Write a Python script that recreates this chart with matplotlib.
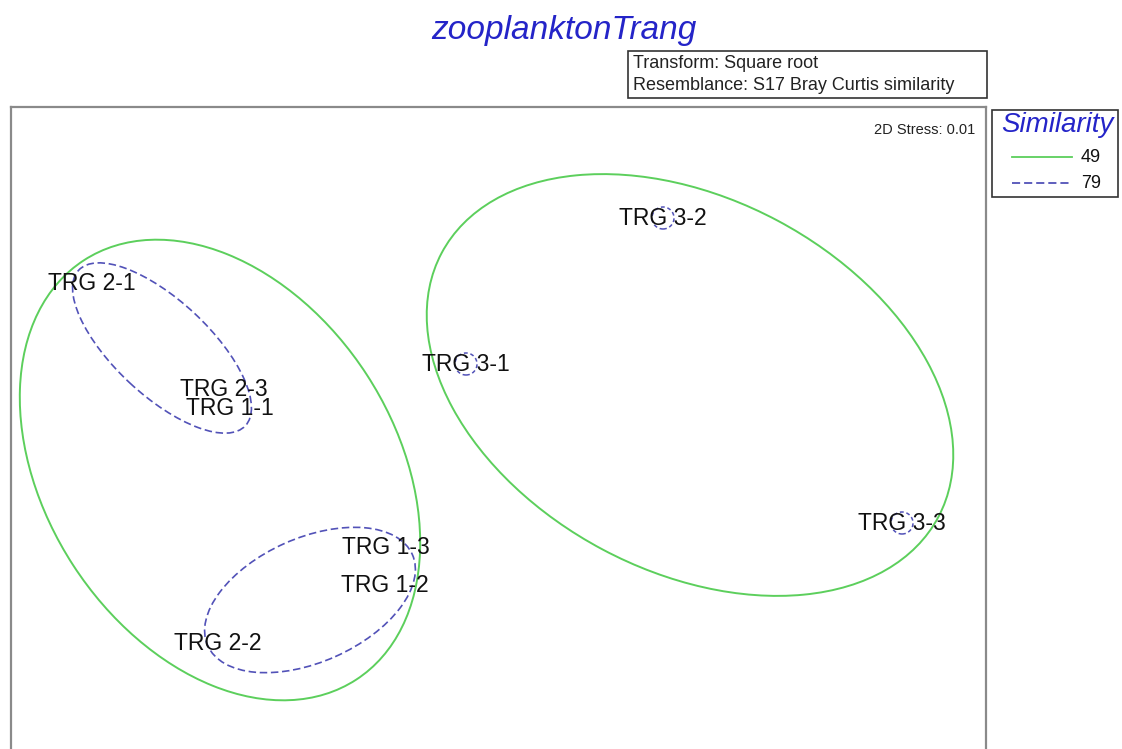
import matplotlib
matplotlib.use("Agg")
import matplotlib.pyplot as plt
from matplotlib.patches import Ellipse, Rectangle
from matplotlib.lines import Line2D

plt.rcParams['font.family'] = ['Liberation Sans', 'DejaVu Sans']

# --- nMDS ordination of samples -------------------------------------------
samples = ["TRG 1-1", "TRG 1-2", "TRG 1-3",
           "TRG 2-1", "TRG 2-2", "TRG 2-3",
           "TRG 3-1", "TRG 3-2", "TRG 3-3"]
mds_x = [-1.080, -0.460, -0.456, -1.632, -1.128, -1.104, -0.136, 0.652, 1.608]
mds_y = [0.088, -0.620, -0.472, 0.588, -0.856, 0.164, 0.264, 0.848, -0.372]

# cluster overlays at two similarity levels (centre x, centre y, width, height, angle)
sim_levels = [49, 79]
sim_colors = ["#5ccf5c", "#5252b8"]
sim_styles = ["-", (0, (4.5, 2.2))]

groups_49 = [(-1.120, -0.160, 2.000, 1.400, -57.0),
             (0.760, 0.180, 2.250, 1.490, -28.0)]
groups_79 = [(-1.352, 0.328, 0.912, 0.380, -43.0),
             (-0.760, -0.680, 0.896, 0.496, 24.0)]
# samples that form a group of one at the 79% level
singletons_79 = ["TRG 3-1", "TRG 3-2", "TRG 3-3"]
single_diam = 0.088

stress = 0.01
title = "zooplanktonTrang"
info_lines = ["Transform: Square root", "Resemblance: S17 Bray Curtis similarity"]

W, H = 1122, 749
fig = plt.figure(figsize=(W / 100, H / 100), dpi=100)
fig.patch.set_facecolor("white")


def fx(px):
    return px / W


def fy(py):
    return 1 - py / H


ax = fig.add_axes([fx(11), fy(752), (986 - 11) / W, (752 - 107) / H])
ax.set_xlim(-1.956, 1.944)
ax.set_ylim(-1.288, 1.292)
ax.set_xticks([])
ax.set_yticks([])
for s in ax.spines.values():
    s.set_color("#8a8a8a")
    s.set_linewidth(1.6)

for (cx, cy, w, h, a) in groups_49:
    ax.add_patch(Ellipse((cx, cy), w, h, angle=a, fill=False,
                         edgecolor=sim_colors[0], linestyle=sim_styles[0], lw=1.4))
for (cx, cy, w, h, a) in groups_79:
    ax.add_patch(Ellipse((cx, cy), w, h, angle=a, fill=False,
                         edgecolor=sim_colors[1], linestyle=sim_styles[1], lw=1.2))
for name in singletons_79:
    i = samples.index(name)
    ax.add_patch(Ellipse((mds_x[i], mds_y[i]), single_diam, single_diam, fill=False,
                         edgecolor=sim_colors[1], linestyle=(0, (2.5, 1.8)), lw=1.1))

for name, x, y in zip(samples, mds_x, mds_y):
    ax.text(x, y, name, ha="center", va="center", fontsize=16.5, color="#111111")

ax.text(0.989, 0.975, f"2D Stress: {stress:.2f}", transform=ax.transAxes,
        ha="right", va="top", fontsize=10.5, color="#222222")

# title
fig.text(fx(564), fy(31), title, ha="center", va="center", fontsize=24,
         style="italic", color="#2424c8")

# data treatment box
fig.add_artist(Rectangle((fx(628), fy(98)), (987 - 628) / W, (98 - 51) / H,
                         transform=fig.transFigure, fill=False,
                         edgecolor="#333333", lw=1.2))
for k, line in enumerate(info_lines):
    fig.text(fx(633), fy(63 + 23 * k), line, ha="left", va="center",
             fontsize=13, color="#222222")

# similarity key
fig.add_artist(Rectangle((fx(992), fy(197)), (1118 - 992) / W, (197 - 110) / H,
                         transform=fig.transFigure, fill=False,
                         edgecolor="#333333", lw=1.2))
fig.text(fx(1057), fy(125), "Similarity", ha="center", va="center", fontsize=20,
         style="italic", color="#2424c8")
for k, (lev, col, ls) in enumerate(zip(sim_levels, sim_colors, sim_styles)):
    yy = fy(157 + 26 * k)
    fig.add_artist(Line2D([fx(1012), fx(1072)], [yy, yy], transform=fig.transFigure,
                          color=col, linestyle=ls, lw=1.3))
    fig.text(fx(1101), yy, str(lev), ha="right", va="center", fontsize=13,
             color="#111111")

fig.savefig("out.png", dpi=100, facecolor="white")
